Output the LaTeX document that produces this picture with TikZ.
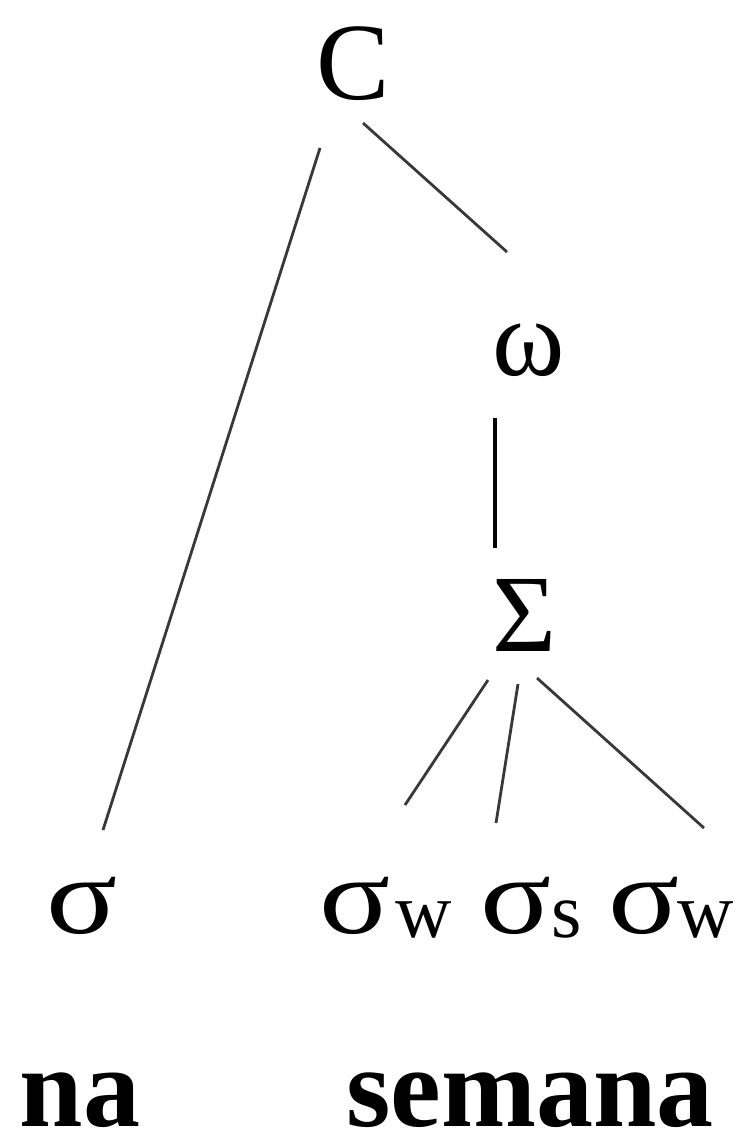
\documentclass[tikz,border=0pt]{standalone}
\usepackage{fontspec}
\setmainfont{Liberation Serif}
\newcommand{\wsig}{\scalebox{1.2}[1]{σ}}
\tikzset{
  lbl/.style={inner sep=0pt, outer sep=0pt, anchor=base, font=\fontsize{110}{110}\selectfont},
  sub/.style={inner sep=0pt, outer sep=0pt, anchor=base west, font=\fontsize{78}{78}\selectfont},
  word/.style={inner sep=0pt, outer sep=0pt, anchor=base, font=\fontsize{114}{114}\selectfont\bfseries},
  branch/.style={line width=2.8pt, draw=black!78},
  stem/.style={line width=4pt, draw=black}
}
\begin{document}
\begin{tikzpicture}[x=1pt,y=-1pt]
\useasboundingbox (0,0) rectangle (734,1137);
\node[lbl] (C) at (353,100) {C};
\node[lbl] (omega) at (529,375) {ω};
\node[lbl] (Sigma) at (525,651) {Σ};
\node[lbl] (s0) at (82,933) {\wsig};
\node[lbl] (s1) at (355,933) {\wsig};
\node[sub] (w1) at (395,937) {w};
\node[lbl] (s2) at (516,933) {\wsig};
\node[sub] (ss) at (551,937) {s};
\node[lbl] (s3) at (644,933) {\wsig};
\node[sub] (w3) at (677,937) {w};
\node[word] (na) at (80,1126) {na};
\node[word] (semana) at (530,1126) {semana};
% connector end points
\coordinate (c1a) at (320,148); \coordinate (c1b) at (103,830);
\coordinate (c2a) at (363,123); \coordinate (c2b) at (507,252);
\coordinate (c3a) at (495,418); \coordinate (c3b) at (495,548);
\coordinate (c4a) at (488,680); \coordinate (c4b) at (405,805);
\coordinate (c5a) at (518,684); \coordinate (c5b) at (496,823);
\coordinate (c6a) at (537,678); \coordinate (c6b) at (704,828);
\draw[branch] (c1a) -- (c1b);
\draw[branch] (c2a) -- (c2b);
\draw[stem] (c3a) -- (c3b);
\draw[branch] (c4a) -- (c4b);
\draw[branch] (c5a) -- (c5b);
\draw[branch] (c6a) -- (c6b);
\end{tikzpicture}
\end{document}
